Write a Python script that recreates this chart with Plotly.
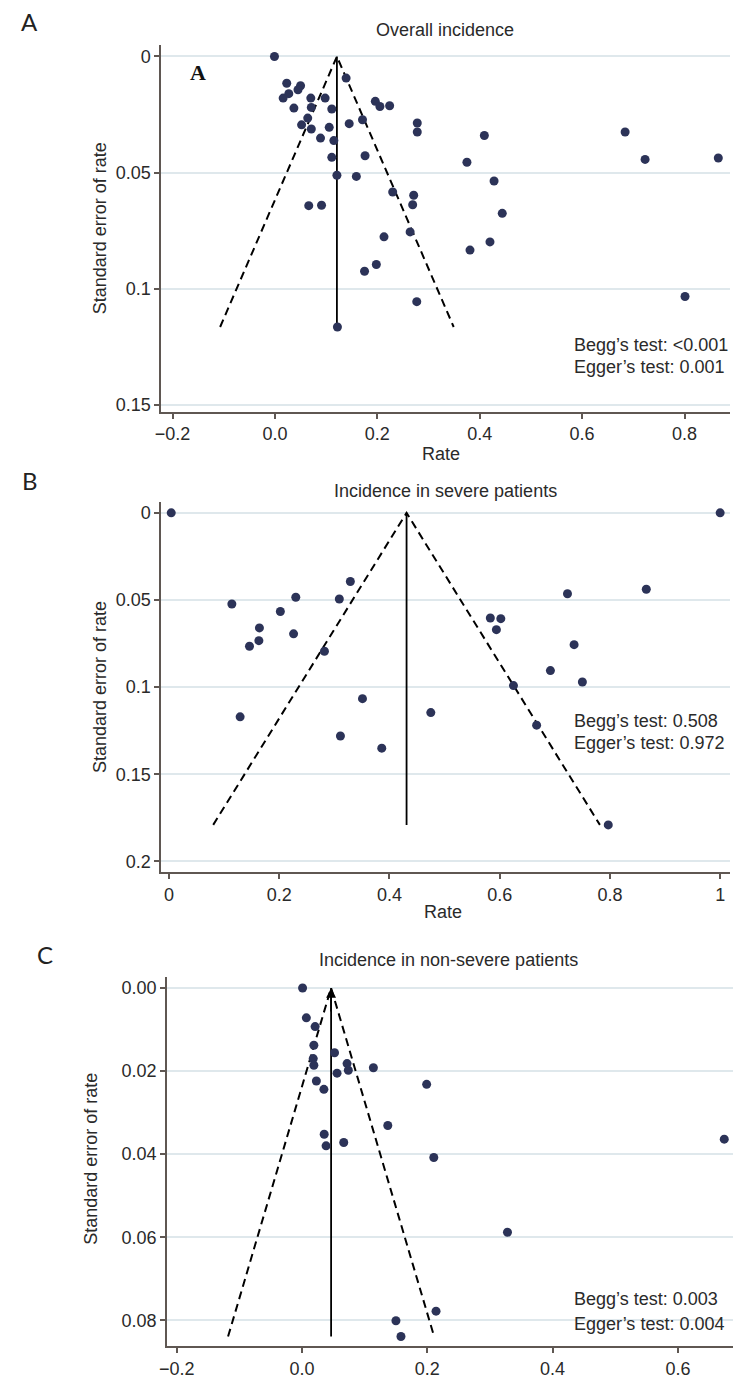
import plotly.graph_objects as go

# ---------------- data ----------------
# Panel A: Overall incidence
rate_a = [-0.001, 0.139, 0.023, 0.050, 0.045, 0.027, 0.016, 0.070, 0.098, 0.196,
          0.205, 0.224, 0.071, 0.037, 0.111, 0.064, 0.171, 0.145, 0.052, 0.071,
          0.106, 0.278, 0.278, 0.089, 0.115, 0.176, 0.111, 0.121, 0.159, 0.230,
          0.271, 0.269, 0.066, 0.091, 0.213, 0.264, 0.198, 0.175, 0.277, 0.122,
          0.409, 0.684, 0.375, 0.723, 0.866, 0.428, 0.444, 0.381, 0.420, 0.801]
se_a = [0.0, 0.0093, 0.0115, 0.0126, 0.0143, 0.0160, 0.0179, 0.0179, 0.0179, 0.0193,
        0.0215, 0.0212, 0.0219, 0.0222, 0.0226, 0.0265, 0.0272, 0.0289, 0.0294, 0.0312,
        0.0305, 0.0286, 0.0325, 0.0351, 0.0362, 0.0427, 0.0434, 0.0511, 0.0516, 0.0583,
        0.0597, 0.0638, 0.0642, 0.0640, 0.0776, 0.0755, 0.0895, 0.0924, 0.1055, 0.1164,
        0.0340, 0.0325, 0.0455, 0.0443, 0.0437, 0.0536, 0.0675, 0.0833, 0.0798, 0.1033]
pooled_a = 0.121
semax_a = 0.1164

# Panel B: Incidence in severe patients
rate_b = [0.004, 0.114, 0.164, 0.163, 0.146, 0.202, 0.230, 0.226, 0.309, 0.329,
          0.282, 0.129, 0.351, 0.311, 0.386, 0.475, 1.000, 0.723, 0.866, 0.583,
          0.602, 0.594, 0.735, 0.692, 0.750, 0.625, 0.667, 0.797]
se_b = [0.0, 0.0523, 0.0660, 0.0733, 0.0765, 0.0566, 0.0484, 0.0694, 0.0494, 0.0394,
        0.0794, 0.1170, 0.1066, 0.1280, 0.1350, 0.1146, 0.0, 0.0464, 0.0438, 0.0603,
        0.0607, 0.0670, 0.0756, 0.0905, 0.0970, 0.0991, 0.1218, 0.1790]
pooled_b = 0.431
semax_b = 0.179

# Panel C: Incidence in non-severe patients
rate_c = [0.001, 0.007, 0.021, 0.019, 0.018, 0.019, 0.052, 0.072, 0.074, 0.056,
          0.114, 0.023, 0.035, 0.199, 0.137, 0.0355, 0.0385, 0.0667, 0.2104, 0.674,
          0.328, 0.214, 0.150, 0.158]
se_c = [0.0, 0.0072, 0.0093, 0.0138, 0.0170, 0.0186, 0.0156, 0.0182, 0.0198, 0.0205,
        0.0192, 0.0224, 0.0244, 0.0232, 0.0331, 0.0352, 0.0380, 0.0372, 0.0408, 0.0364,
        0.0588, 0.0778, 0.0801, 0.0839]
pooled_c = 0.0465
semax_c = 0.0839

titles = ["Overall incidence", "Incidence in severe patients", "Incidence in non-severe patients"]
panel_letters = ["A", "B", "C"]
begg = ["Begg\u2019s test: <0.001", "Begg\u2019s test: 0.508", "Begg\u2019s test: 0.003"]
egger = ["Egger\u2019s test: 0.001", "Egger\u2019s test: 0.972", "Egger\u2019s test: 0.004"]

xticks_a = [-0.2, 0.0, 0.2, 0.4, 0.6, 0.8]
yticks_a = [0, 0.05, 0.1, 0.15]
xticks_b = [0, 0.2, 0.4, 0.6, 0.8, 1]
yticks_b = [0, 0.05, 0.1, 0.15, 0.2]
xticks_c = [-0.2, 0.0, 0.2, 0.4, 0.6]
yticks_c = [0.0, 0.02, 0.04, 0.06, 0.08]

# ---------------- style ----------------
W, H = 736, 1380
FONT = "Liberation Sans, Arial, sans-serif"
TXT = "#2a2a2a"
DOT = "#2c3358"
AXC = "#5f5752"
GRID = "#dfe8ec"

fig = go.Figure()

panels = [
    dict(rate=rate_a, se=se_a, pooled=pooled_a, semax=semax_a, xs="x", ys="y"),
    dict(rate=rate_b, se=se_b, pooled=pooled_b, semax=semax_b, xs="x2", ys="y2"),
    dict(rate=rate_c, se=se_c, pooled=pooled_c, semax=semax_c, xs="x3", ys="y3"),
]

for p in panels:
    lo = p["pooled"] - 1.96 * p["semax"]
    hi = p["pooled"] + 1.96 * p["semax"]
    fig.add_trace(go.Scatter(x=[lo, p["pooled"], hi], y=[p["semax"], 0, p["semax"]],
                             mode="lines", line=dict(color="black", width=2, dash="8px,5px"),
                             xaxis=p["xs"], yaxis=p["ys"], showlegend=False, hoverinfo="skip"))
    fig.add_trace(go.Scatter(x=[p["pooled"], p["pooled"]], y=[0, p["semax"]],
                             mode="lines", line=dict(color="black", width=1.8),
                             xaxis=p["xs"], yaxis=p["ys"], showlegend=False, hoverinfo="skip"))
    fig.add_trace(go.Scatter(x=p["rate"], y=p["se"], mode="markers",
                             marker=dict(color=DOT, size=9, line=dict(width=0)),
                             xaxis=p["xs"], yaxis=p["ys"], showlegend=False, cliponaxis=False))

# pixel -> paper helpers for layout
def px(x):
    return x / W

def py(y):
    return 1 - y / H

boxes = [  # left, right, top, bottom in pixels
    (155, 730, 45, 413),
    (155, 730, 503, 875),
    (161, 733, 980, 1350),
]

def xaxis_cfg(box, rng, tickvals, fmt):
    return dict(domain=[px(box[0]), px(box[1])], range=rng, tickvals=tickvals, tickformat=fmt,
                showline=True, linecolor=AXC, linewidth=2, ticks="outside", ticklen=5,
                tickcolor=AXC, tickwidth=1.5, showgrid=False, zeroline=False,
                tickfont=dict(family=FONT, size=18, color=TXT))

def yaxis_cfg(box, rng, tickvals, fmt, anchor):
    return dict(domain=[py(box[3]), py(box[2])], range=rng, tickvals=tickvals, tickformat=fmt,
                anchor=anchor, showline=True, linecolor=AXC, linewidth=2, ticks="outside",
                ticklen=5, tickcolor=AXC, tickwidth=1.5, showgrid=True, gridcolor=GRID,
                gridwidth=2, zeroline=False, tickfont=dict(family=FONT, size=18, color=TXT))

fig.update_layout(
    width=W, height=H, margin=dict(l=0, r=0, t=0, b=0),
    paper_bgcolor="white", plot_bgcolor="white",
    xaxis=dict(xaxis_cfg(boxes[0], [-0.222, 0.889], xticks_a, ".1f"), anchor="y"),
    yaxis=yaxis_cfg(boxes[0], [0.1529, -0.005], yticks_a, "", "x"),
    xaxis2=dict(xaxis_cfg(boxes[1], [-0.014, 1.018], xticks_b, ""), anchor="y2"),
    yaxis2=yaxis_cfg(boxes[1], [0.2063, -0.0065], yticks_b, "", "x2"),
    xaxis3=dict(xaxis_cfg(boxes[2], [-0.215, 0.688], xticks_c, ".1f"), anchor="y3"),
    yaxis3=yaxis_cfg(boxes[2], [0.0862, -0.0026], yticks_c, ".2f", "x3"),
)

ann = []
title_pos = [(442, 30), (442, 492), (445, 963)]
letter_pos = [(22, 22), (22, 482), (37, 957)]
ytitle_pos = [(93, 229), (93, 689), (84, 1162)]
test_pos = [(570, 346, 368), (570, 723, 745), (570, 1303, 1328)]
rate_pos = [(438, 455), (440, 915)]

for i in range(3):
    ann.append(dict(text=titles[i], x=px(title_pos[i][0]), y=py(title_pos[i][1]), xref="paper", yref="paper",
                    showarrow=False, xanchor="center", yanchor="middle",
                    font=dict(family=FONT, size=18, color=TXT)))
    ann.append(dict(text=panel_letters[i], x=px(letter_pos[i][0]), y=py(letter_pos[i][1]), xref="paper",
                    yref="paper", showarrow=False, xanchor="center", yanchor="middle",
                    font=dict(family="Lato, Liberation Sans, sans-serif", size=24, color="#222")))
    ann.append(dict(text="Standard error of rate", x=px(ytitle_pos[i][0]), y=py(ytitle_pos[i][1]),
                    xref="paper", yref="paper", showarrow=False, textangle=-90,
                    xanchor="center", yanchor="middle", font=dict(family=FONT, size=18, color=TXT)))
    ann.append(dict(text=begg[i], x=px(test_pos[i][0]), y=py(test_pos[i][1]), xref="paper", yref="paper",
                    showarrow=False, xanchor="left", yanchor="middle", align="left",
                    font=dict(family=FONT, size=18, color=TXT)))
    ann.append(dict(text=egger[i], x=px(test_pos[i][0]), y=py(test_pos[i][2]), xref="paper", yref="paper",
                    showarrow=False, xanchor="left", yanchor="middle", align="left",
                    font=dict(family=FONT, size=18, color=TXT)))

for (x, y) in rate_pos:
    ann.append(dict(text="Rate", x=px(x), y=py(y), xref="paper", yref="paper", showarrow=False,
                    xanchor="center", yanchor="middle", font=dict(family=FONT, size=18, color=TXT)))

# bold serif "A" inside panel A
ann.append(dict(text="<b>A</b>", x=px(192), y=py(73), xref="paper", yref="paper", showarrow=False,
                xanchor="center", yanchor="middle",
                font=dict(family="Liberation Serif, Times New Roman, serif", size=22, color="#111")))

# arrow tip at funnel apex in panel C
ann.append(dict(x=pooled_c, y=0, ax=pooled_c, ay=0.006, xref="x3", yref="y3", axref="x3", ayref="y3",
                showarrow=True, arrowhead=2, arrowsize=1.1, arrowwidth=1.8, arrowcolor="black", text=""))

fig.update_layout(annotations=ann)

fig.write_html("out.html", config={"displayModeBar": False},
               post_script="document.body.style.margin='0';document.body.style.overflow='hidden';")
